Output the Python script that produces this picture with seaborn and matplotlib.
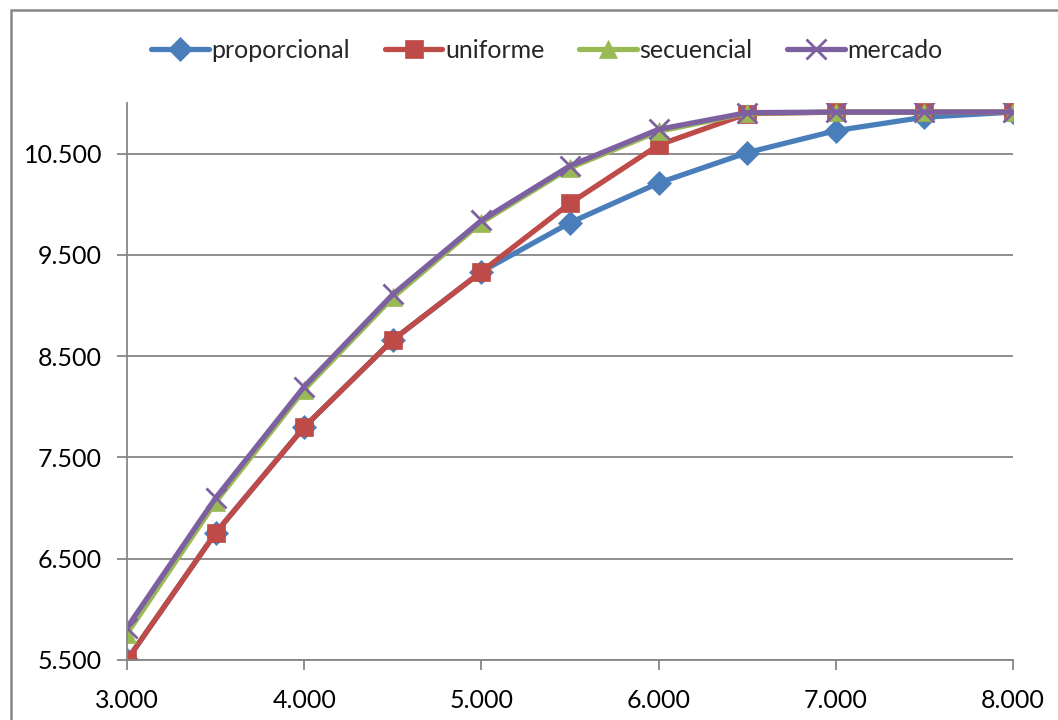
import matplotlib
matplotlib.use("Agg")
import matplotlib.pyplot as plt
import matplotlib.patches as mpatches
from matplotlib.ticker import FuncFormatter, FixedLocator
import seaborn as sns
import pandas as pd

x_vals = [3000, 3500, 4000, 4500, 5000, 5500, 6000, 6500, 7000, 7500, 8000]
proporcional = [5500, 6755, 7800, 8660, 9334, 9818, 10210, 10510, 10727, 10860, 10910]
uniforme = [5500, 6755, 7800, 8660, 9334, 10010, 10585, 10895, 10910, 10910, 10910]
secuencial = [5760, 7060, 8170, 9080, 9820, 10360, 10720, 10900, 10910, 10910, 10910]
mercado = [5820, 7100, 8200, 9110, 9840, 10380, 10740, 10905, 10910, 10910, 10910]

series_names = ["proporcional", "uniforme", "secuencial", "mercado"]
series_vals = [proporcional, uniforme, secuencial, mercado]
colors = ["#4A7EBB", "#BE4B48", "#98B954", "#7D60A0"]
markers = ["D", "s", "^", "x"]
msizes = [12, 13, 13, 14]

rows = []
for name, vals in zip(series_names, series_vals):
    for xv, yv in zip(x_vals, vals):
        rows.append({"x": xv, "y": yv, "serie": name})
df = pd.DataFrame(rows)

sns.set_theme(style="white")
plt.rcParams["font.family"] = ["Lato", "DejaVu Sans"]

fig = plt.figure(figsize=(10.58, 7.2), dpi=100)
ax = fig.add_axes([127/1058, 1-660/720, (1013-127)/1058, (660-103)/720])

for name, c, m, ms in zip(series_names, colors, markers, msizes):
    sub = df[df["serie"] == name]
    sns.lineplot(data=sub, x="x", y="y", ax=ax, color=c, linewidth=3.8,
                 marker=m, markersize=ms, markeredgecolor=c,
                 markeredgewidth=(2 if m == "x" else 0.5), label=name,
                 sort=False, estimator=None)

ax.set_xlim(3000, 8000)
ax.set_ylim(5500, 11000)
ax.yaxis.set_major_locator(FixedLocator([5500, 6500, 7500, 8500, 9500, 10500]))
ax.xaxis.set_major_locator(FixedLocator([3000, 4000, 5000, 6000, 7000, 8000]))
fmt = FuncFormatter(lambda v, p: f"{int(v):,}".replace(",", "."))
ax.xaxis.set_major_formatter(fmt)
ax.yaxis.set_major_formatter(fmt)
ax.set_xlabel("")
ax.set_ylabel("")
ax.grid(axis="y", color="#868686", linewidth=1.3)
ax.grid(axis="x", visible=False)
for s in ["top", "right"]:
    ax.spines[s].set_visible(False)
for s in ["left", "bottom"]:
    ax.spines[s].set_color("#868686")
    ax.spines[s].set_linewidth(1.3)
ax.tick_params(axis="both", which="major", direction="out", length=7, width=1.3,
               color="#868686", labelsize=18, labelcolor="black",
               left=True, bottom=True)
ax.tick_params(axis="y", pad=11)
ax.tick_params(axis="x", pad=14)

handles, labels = ax.get_legend_handles_labels()
ax.get_legend().remove()
fig.legend(handles, labels, loc="center", bbox_to_anchor=(0.517, 1-50/720), ncol=4,
           frameon=False, fontsize=18, handlelength=2.3, columnspacing=1.4,
           handletextpad=0.1)

border = mpatches.Rectangle((11/1058, -0.1), 1.2, 1.1 - 10/720, transform=fig.transFigure,
                            fill=False, edgecolor="#868686", linewidth=1.8)
fig.patches.append(border)

fig.savefig("out.png", dpi=100)
